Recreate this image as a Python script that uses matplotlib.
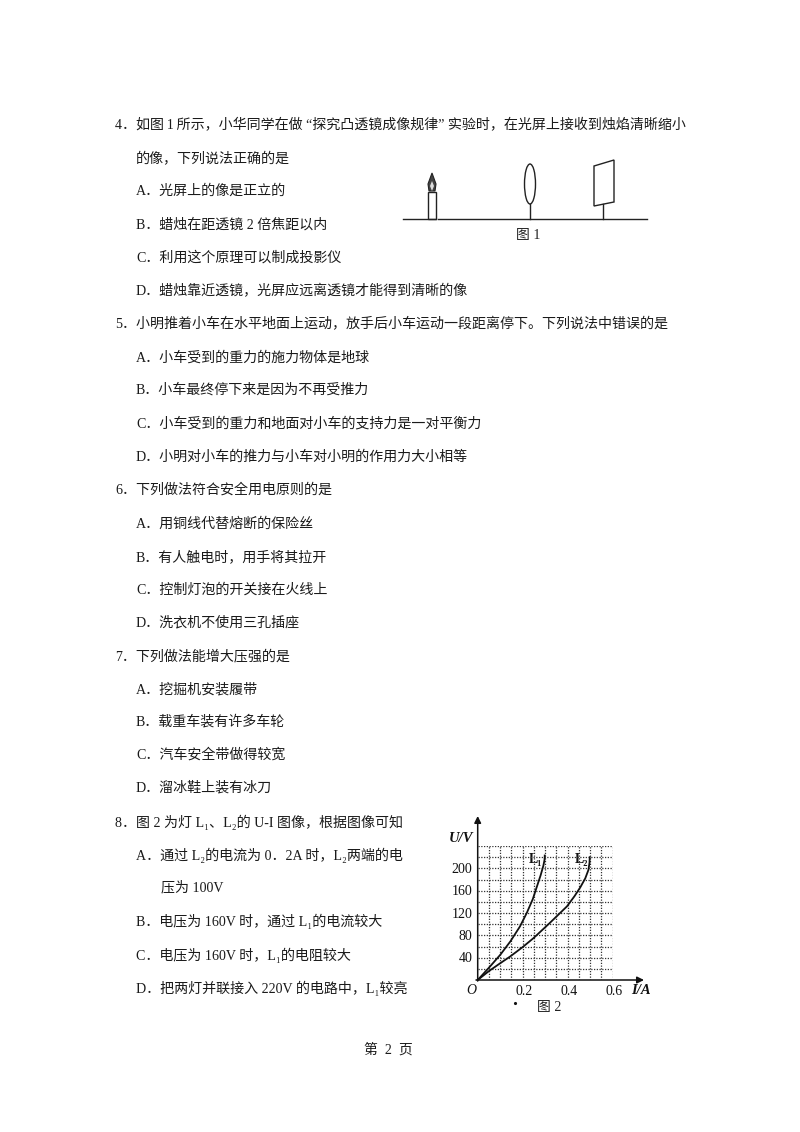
import matplotlib
matplotlib.use('Agg')
import matplotlib.pyplot as plt
from matplotlib.patches import Ellipse, Polygon, Rectangle

plt.rcParams['font.family'] = ['Liberation Serif', 'Noto Sans CJK SC']

# question text, one entry per printed line
question_lines = [
    "4．如图\u20091\u2009所示，小华同学在做 “探究凸透镜成像规律” 实验时，在光屏上接收到烛焰清晰缩小",
    "的像，下列说法正确的是",
    "A．光屏上的像是正立的",
    "B．蜡烛在距透镜 2 倍焦距以内",
    "C．利用这个原理可以制成投影仪",
    "D．蜡烛靠近透镜，光屏应远离透镜才能得到清晰的像",
    "5．小明推着小车在水平地面上运动，放手后小车运动一段距离停下。下列说法中错误的是",
    "A．小车受到的重力的施力物体是地球",
    "B．小车最终停下来是因为不再受推力",
    "C．小车受到的重力和地面对小车的支持力是一对平衡力",
    "D．小明对小车的推力与小车对小明的作用力大小相等",
    "6．下列做法符合安全用电原则的是",
    "A．用铜线代替熔断的保险丝",
    "B．有人触电时，用手将其拉开",
    "C．控制灯泡的开关接在火线上",
    "D．洗衣机不使用三孔插座",
    "7．下列做法能增大压强的是",
    "A．挖掘机安装履带",
    "B．载重车装有许多车轮",
    "C．汽车安全带做得较宽",
    "D．溜冰鞋上装有冰刀",
    "8．图 2 为灯 L₁、L₂的 U-I 图像，根据图像可知",
    "A．通过 L₂的电流为 0．2A 时，L₂两端的电",
    "压为 100V",
    "B．电压为 160V 时，通过 L₁的电流较大",
    "C．电压为 160V 时，L₁的电阻较大",
    "D．把两灯并联接入 220V 的电路中，L₁较亮",
]
line_y = [125, 159, 191, 225, 258, 291, 324, 358, 390, 424, 457, 490, 524, 557,
          590, 623, 656, 690, 722, 755, 788, 822, 855, 888, 921, 955, 988]
line_x = [115, 136, 136, 136, 136, 136, 115, 136, 136, 136, 136, 115, 136, 136,
          136, 136, 115, 136, 136, 136, 136, 115, 136, 161, 136, 136, 136]

# U-I curves
l1_current = [0, 0.05, 0.10, 0.145, 0.188, 0.218, 0.245, 0.262, 0.28, 0.292, 0.297, 0.298]
l1_voltage = [0, 22, 45, 69, 96, 120, 145, 166, 188, 205, 215, 223]
l2_current = [0, 0.05, 0.10, 0.144, 0.20, 0.248, 0.32, 0.397, 0.43, 0.456, 0.478, 0.492, 0.497, 0.498]
l2_voltage = [0, 16, 30, 42, 59, 75, 102, 132, 150, 166, 182, 197, 210, 220]
u_ticks = [40, 80, 120, 160, 200]
i_ticks = [0.2, 0.4, 0.6]

fig = plt.figure(figsize=(8, 11.32), dpi=100)
page = fig.add_axes([0, 0, 1, 1])
page.set_xlim(0, 800)
page.set_ylim(1132, 0)
page.axis('off')

for text, x, y in zip(question_lines, line_x, line_y):
    page.text(x, y, text, fontsize=10.1, va='center', ha='left', color='#1a1a1a')
page.text(388, 1050, "第  2  页", fontsize=10, ha='center', va='center', color='#1a1a1a')

# figure 1: candle, lens and screen on a bench
ink = '#222222'
page.plot([403, 436], [219, 219], color=ink, lw=1)
page.plot([438, 647], [219, 219], color=ink, lw=1)
page.add_patch(Rectangle((428, 192), 8, 27, fill=False, ec=ink, lw=1))
page.add_patch(Polygon([(432, 173), (436, 184), (435, 191), (429, 191), (428, 184)],
                       closed=True, fc='#444444', ec=ink, lw=0.8))
page.add_patch(Polygon([(432, 181), (434, 186), (432, 191), (430, 186)],
                       closed=True, fc='#dddddd', ec='none'))
page.add_patch(Ellipse((530, 184), 11, 40, fill=False, ec=ink, lw=1))
page.plot([530, 530], [204, 219], color=ink, lw=1)
page.add_patch(Polygon([(594, 166), (614, 160), (614, 202), (594, 206)],
                       closed=True, fill=False, ec=ink, lw=1))
page.plot([603, 603], [204, 219], color=ink, lw=1)
page.text(528, 236, "图 1", fontsize=10, ha='center', va='center', color=ink)

# figure 2: pixel box of the graph on the page, 0.6 A across and 240 V high
left, right, bottom, top = 477.7, 612.7, 980, 846
ax = fig.add_axes([left / 800, 1 - bottom / 1132, (right - left) / 800, (bottom - top) / 1132])
ax.set_xlim(0, 0.6)
ax.set_ylim(0, 240)
ax.patch.set_alpha(0)
ax.set_xticks([i * 0.05 for i in range(1, 13)])
ax.set_yticks(range(20, 241, 20))
ax.tick_params(length=0, labelbottom=False, labelleft=False)
ax.grid(True, color='#333333', lw=0.9, ls=(0, (1, 1.2)))
for side in ax.spines.values():
    side.set_visible(False)
ax.plot(l1_current, l1_voltage, color='#111111', lw=1.3, clip_on=False)
ax.plot(l2_current, l2_voltage, color='#111111', lw=1.3, clip_on=False)

# axes with arrow heads
page.annotate('', xy=(477.7, 816), xytext=(477.7, 981),
              arrowprops=dict(arrowstyle='-|>', color='#111111', lw=1.1, shrinkA=0, shrinkB=0))
page.annotate('', xy=(644, 980), xytext=(476, 980),
              arrowprops=dict(arrowstyle='-|>', color='#111111', lw=1.1, shrinkA=0, shrinkB=0))

for u in u_ticks:
    ax.text(-0.024, u - 2, str(u), fontsize=10, ha='right', va='center', color='#111111')
for i in i_ticks:
    ax.text(i + 0.006, -20, str(i), fontsize=10, ha='center', va='center', color='#111111')

page.text(461, 838, "U/V", fontsize=10.5, ha='center', va='center', style='italic', fontweight='bold', color='#111111')
page.text(641, 991, "I/A", fontsize=10.5, ha='center', va='center', style='italic', fontweight='bold', color='#111111')
page.text(471, 990, "O", fontsize=10, ha='center', va='center', style='italic', color='#111111')
page.text(536, 860, "L₁", fontsize=10, ha='center', va='center', fontweight='bold', color='#111111')
page.text(582, 860, "L₂", fontsize=10, ha='center', va='center', fontweight='bold', color='#111111')
page.text(549, 1008, "图 2", fontsize=10, ha='center', va='center', color=ink)
page.plot([515], [1003], marker='.', ms=2.5, color='#111111')

fig.savefig('out.png', dpi=100, facecolor='white')
